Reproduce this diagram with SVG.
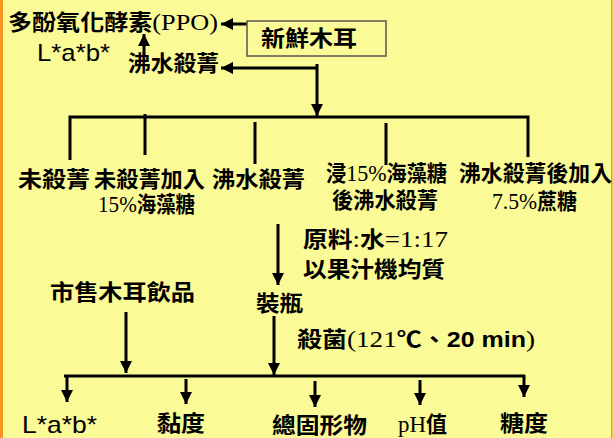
<svg xmlns="http://www.w3.org/2000/svg" width="613" height="438" viewBox="0 0 613 438">
<style>
.t{font-family:"Liberation Serif","Noto Sans CJK TC",serif;font-size:22px;font-weight:bold;fill:#000}
.l{font-size:24px;font-weight:normal}
.a{font-family:"Liberation Sans","Noto Sans CJK TC",sans-serif;font-size:24px;fill:#000}
.c{stroke:#000;stroke-width:3;fill:none}
</style>
<defs>
<marker id="ah" markerUnits="userSpaceOnUse" markerWidth="13" markerHeight="13" refX="12" refY="6" orient="auto">
<path d="M0,0 L12,6 L0,12 z" fill="#000"/>
</marker>
</defs>
<rect x="0" y="0" width="613" height="438" fill="#FAFA96"/>
<rect x="0" y="0" width="3" height="438" fill="#F7931E"/>
<rect x="611" y="0" width="1.5" height="438" fill="#F7931E"/>

<g id="connectors">
<line class="c" x1="247" y1="24" x2="221" y2="24" marker-end="url(#ah)"/>
<line class="c" x1="144" y1="55" x2="144" y2="34" marker-end="url(#ah)"/>
<line class="c" x1="318" y1="68" x2="221" y2="68" marker-end="url(#ah)"/>
<line class="c" x1="317" y1="64" x2="317" y2="116" marker-end="url(#ah)"/>
<path class="c" d="M70,160 V117 H528 V157"/>
<line class="c" x1="145" y1="114" x2="145" y2="155"/>
<line class="c" x1="255" y1="122" x2="255" y2="164"/>
<line class="c" x1="386" y1="123" x2="386" y2="165"/>
<line class="c" x1="278" y1="224" x2="278" y2="285" marker-end="url(#ah)"/>
<line class="c" x1="126" y1="312" x2="126" y2="373" marker-end="url(#ah)"/>
<line class="c" x1="274" y1="316" x2="274" y2="375" marker-end="url(#ah)"/>
<line class="c" x1="64" y1="376" x2="525" y2="376"/>
<line class="c" x1="67" y1="375" x2="67" y2="402" marker-end="url(#ah)"/>
<line class="c" x1="186" y1="379" x2="186" y2="404" marker-end="url(#ah)"/>
<line class="c" x1="315" y1="381" x2="315" y2="407" marker-end="url(#ah)"/>
<line class="c" x1="420" y1="380" x2="420" y2="405" marker-end="url(#ah)"/>
<line class="c" x1="524" y1="375" x2="524" y2="397" marker-end="url(#ah)"/>
</g>

<g id="ppo"><text class="t" x="8" y="30" textLength="210" lengthAdjust="spacingAndGlyphs">多酚氧化酵素<tspan class="l">(PPO)</tspan></text></g>
<g id="lab1"><text class="a" x="37" y="61" textLength="73" lengthAdjust="spacingAndGlyphs">L*a*b*</text></g>
<g id="blanch1"><text class="t" x="128" y="71" textLength="91" lengthAdjust="spacingAndGlyphs">沸水殺菁</text></g>
<g id="fresh">
<rect x="247" y="21" width="139" height="35" fill="#FAFA96" stroke="#555" stroke-width="1.5"/>
<text class="t" x="261" y="46" textLength="96" lengthAdjust="spacingAndGlyphs">新鮮木耳</text>
</g>
<g id="t1"><text class="t" x="18" y="187" textLength="72" lengthAdjust="spacingAndGlyphs">未殺菁</text></g>
<g id="t2">
<text class="t" x="94" y="187" textLength="111" lengthAdjust="spacingAndGlyphs">未殺菁加入</text>
<text class="t" x="98" y="212" textLength="97" lengthAdjust="spacingAndGlyphs"><tspan class="l">15%</tspan>海藻糖</text>
</g>
<g id="t3"><text class="t" x="212" y="187" textLength="93" lengthAdjust="spacingAndGlyphs">沸水殺菁</text></g>
<g id="t4">
<text class="t" x="326" y="181" textLength="121" lengthAdjust="spacingAndGlyphs">浸<tspan class="l">15%</tspan>海藻糖</text>
<text class="t" x="332" y="208" textLength="106" lengthAdjust="spacingAndGlyphs">後沸水殺菁</text>
</g>
<g id="t5">
<text class="t" x="459" y="181" textLength="153" lengthAdjust="spacingAndGlyphs">沸水殺菁後加入</text>
<text class="t" x="492" y="209" textLength="85" lengthAdjust="spacingAndGlyphs"><tspan class="l">7.5%</tspan>蔗糖</text>
</g>
<g id="note1">
<text class="t" x="303" y="247" textLength="145" lengthAdjust="spacingAndGlyphs">原料<tspan class="l">:</tspan>水<tspan class="l">=1:17</tspan></text>
<text class="t" x="303" y="277" textLength="142" lengthAdjust="spacingAndGlyphs">以果汁機均質</text>
</g>
<g id="market"><text class="t" x="50" y="300" textLength="145" lengthAdjust="spacingAndGlyphs">市售木耳飲品</text></g>
<g id="bottle"><text class="t" x="256" y="311" textLength="47" lengthAdjust="spacingAndGlyphs">裝瓶</text></g>
<g id="steril"><text class="t" x="297" y="347" textLength="238" lengthAdjust="spacingAndGlyphs">殺菌<tspan class="l">(121</tspan>℃、<tspan font-family="Liberation Sans">20 min</tspan><tspan class="l">)</tspan></text></g>
<g id="m1"><text class="a" x="22" y="433" textLength="75" lengthAdjust="spacingAndGlyphs">L*a*b*</text></g>
<g id="m2"><text class="t" x="157" y="431" textLength="48" lengthAdjust="spacingAndGlyphs">黏度</text></g>
<g id="m3"><text class="t" x="272" y="433" textLength="95" lengthAdjust="spacingAndGlyphs">總固形物</text></g>
<g id="m4"><text class="t" x="398" y="432" textLength="49" lengthAdjust="spacingAndGlyphs"><tspan class="l">pH</tspan>值</text></g>
<g id="m5"><text class="t" x="500" y="431" textLength="48" lengthAdjust="spacingAndGlyphs">糖度</text></g>
</svg>
